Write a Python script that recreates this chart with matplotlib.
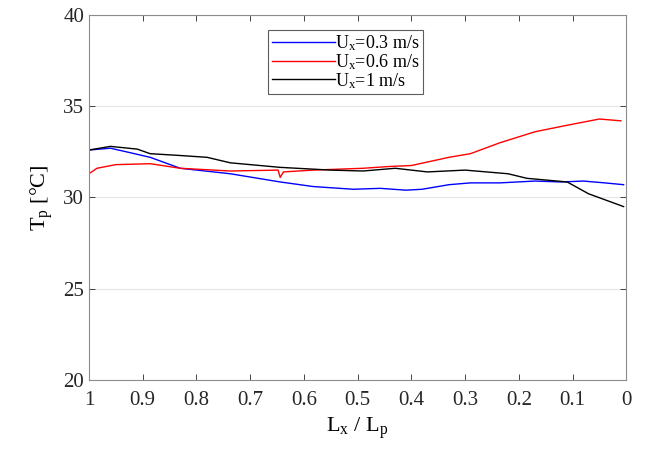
"""Panel temperature along the plate for three air velocities."""
import matplotlib.pyplot as plt
import numpy as np

plt.rcParams['font.family'] = ['Liberation Serif', 'DejaVu Serif']
plt.rcParams['mathtext.fontset'] = 'custom'
plt.rcParams['mathtext.rm'] = 'Liberation Serif'
plt.rcParams['mathtext.it'] = 'Liberation Serif'

# x = Lx/Lp
x_03 = [1.0, 0.96, 0.93, 0.886, 0.83, 0.737, 0.644, 0.583, 0.508, 0.458, 0.41,
        0.38, 0.33, 0.29, 0.235, 0.17, 0.12, 0.08, 0.04, 0.005]
t_03 = [32.6, 32.7, 32.5, 32.2, 31.6, 31.3, 30.85, 30.6, 30.45, 30.5, 30.4,
        30.45, 30.7, 30.8, 30.8, 30.9, 30.85, 30.9, 30.8, 30.7]

x_06 = [1.0, 0.985, 0.95, 0.886, 0.83, 0.737, 0.648, 0.644, 0.638, 0.583, 0.49,
        0.44, 0.4, 0.33, 0.29, 0.235, 0.17, 0.12, 0.05, 0.01]
t_06 = [31.3, 31.6, 31.8, 31.85, 31.6, 31.45, 31.5, 31.1, 31.4, 31.5, 31.6,
        31.7, 31.75, 32.2, 32.4, 33.0, 33.6, 33.9, 34.3, 34.2]

x_1 = [1.0, 0.96, 0.91, 0.886, 0.83, 0.78, 0.737, 0.644, 0.55, 0.49, 0.43,
       0.37, 0.3, 0.22, 0.185, 0.11, 0.07, 0.005]
t_1 = [32.6, 32.8, 32.65, 32.4, 32.3, 32.2, 31.9, 31.65, 31.5, 31.45, 31.6,
       31.4, 31.5, 31.3, 31.05, 30.85, 30.2, 29.5]

labels = ['U$_x$=0.3 m/s', 'U$_x$=0.6 m/s', 'U$_x$=1 m/s']
colors = ['#0000ff', '#ff0000', '#000000']

fig = plt.figure(figsize=(6.49, 4.55), dpi=100)
ax = fig.add_axes([0.137, 0.165, 0.828, 0.802])

for xs, ts, lab, c in zip([x_03, x_06, x_1], [t_03, t_06, t_1], labels, colors):
    ax.plot(xs, ts, color=c, linewidth=1.0, label=lab)

ax.set_xlim(1, 0)
ax.set_ylim(20, 40)
ax.set_xticks(np.round(np.arange(1.0, -0.01, -0.1), 1))
ax.set_xticklabels(['1', '0.9', '0.8', '0.7', '0.6', '0.5', '0.4', '0.3', '0.2', '0.1', '0'])
ax.set_yticks([20, 25, 30, 35, 40])
ax.grid(axis='y', color='#e6e6e6', linewidth=0.8)
ax.tick_params(direction='in', top=True, right=True, labelsize=15, colors='#262626',
               length=4, width=0.6)
ax.tick_params(axis='x', pad=8)
for s in ax.spines.values():
    s.set_color('#8c8c8c')
    s.set_linewidth(0.8)

ax.set_xlabel('L$_x$ / L$_p$', fontsize=16, labelpad=4)
ax.set_ylabel('T$_p$ [°C]', fontsize=16, labelpad=6)

leg = ax.legend(loc='upper left', bbox_to_anchor=(0.334, 0.96), fontsize=13,
                frameon=True, fancybox=False, edgecolor='#333333',
                handlelength=3.5, handletextpad=0.0, borderpad=0.2,
                labelspacing=-0.05, borderaxespad=0)
leg.get_frame().set_linewidth(0.8)

plt.savefig('out.png', dpi=100)
plt.close()
